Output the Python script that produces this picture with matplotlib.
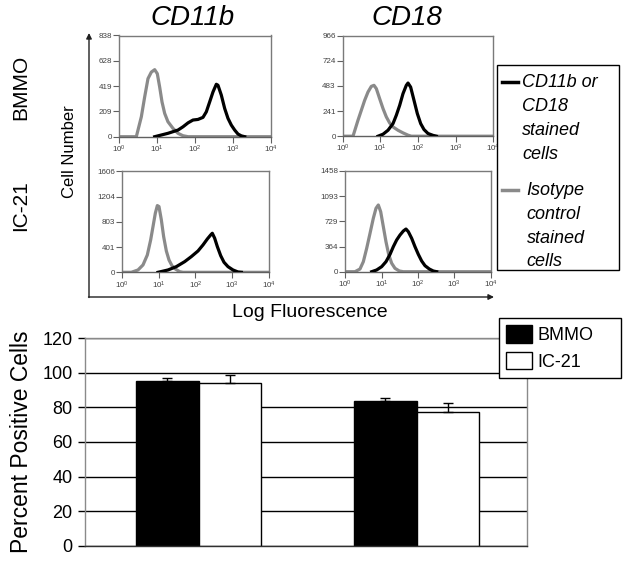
import matplotlib
matplotlib.use('Agg')
import matplotlib.pyplot as plt
import numpy as np
from matplotlib.patches import Rectangle

plt.rcParams['font.family'] = ['Liberation Sans', 'DejaVu Sans']
plt.rcParams['mathtext.fontset'] = 'custom'
plt.rcParams['mathtext.rm'] = 'Liberation Sans'
plt.rcParams['mathtext.it'] = 'Liberation Sans:italic'

# ---------------- data: flow cytometry histograms (log10 fluorescence, cell count) -------------
cd11b_bmmo_iso_log = [0.0, 0.448, 0.58, 0.668, 0.755, 0.843, 0.931, 1.0, 1.062, 1.124, 1.194, 1.28, 1.413, 1.545, 1.676, 1.81, 4.0]
cd11b_bmmo_iso_cnt = [0, 0, 165, 330, 481, 535, 555, 522, 412, 288, 193, 124, 69, 28, 8, 0, 0]
cd11b_bmmo_stain_log = [0.931, 1.28, 1.545, 1.676, 1.81, 1.939, 2.071, 2.202, 2.29, 2.378, 2.466, 2.553, 2.597, 2.685, 2.773, 2.86, 2.948, 3.036, 3.123, 3.211, 3.3]
cd11b_bmmo_stain_cnt = [0, 28, 55, 82, 115, 138, 143, 160, 206, 288, 371, 434, 426, 344, 234, 152, 96, 55, 22, 7, 0]

cd18_bmmo_iso_log = [0.0, 0.276, 0.408, 0.497, 0.585, 0.674, 0.762, 0.833, 0.895, 0.983, 1.072, 1.16, 1.248, 1.337, 1.469, 1.602, 1.735, 1.823, 4.0]
cd18_bmmo_iso_cnt = [0, 0, 153, 249, 344, 424, 478, 488, 456, 360, 265, 185, 127, 89, 57, 32, 10, 0, 0]
cd18_bmmo_stain_log = [0.939, 1.072, 1.204, 1.337, 1.425, 1.514, 1.602, 1.69, 1.735, 1.805, 1.894, 1.982, 2.071, 2.159, 2.265, 2.398, 2.486]
cd18_bmmo_stain_cnt = [0, 19, 57, 121, 201, 296, 408, 488, 510, 471, 344, 217, 121, 64, 26, 8, 0]

cd11b_ic21_iso_log = [0.0, 0.254, 0.436, 0.572, 0.69, 0.781, 0.845, 0.908, 0.963, 1.008, 1.072, 1.135, 1.208, 1.281, 1.362, 1.453, 1.571, 1.662, 4.0]
cd11b_ic21_iso_cnt = [0, 0, 37, 117, 276, 516, 729, 941, 1063, 1047, 835, 568, 340, 196, 105, 53, 10, 0, 0]
cd11b_ic21_stain_log = [0.981, 1.253, 1.48, 1.708, 1.889, 2.071, 2.207, 2.325, 2.416, 2.461, 2.525, 2.598, 2.689, 2.779, 2.888, 3.025, 3.161, 3.252]
cd11b_ic21_stain_cnt = [0, 37, 90, 170, 250, 340, 436, 531, 595, 622, 543, 409, 265, 160, 90, 37, 5, 0]

cd18_ic21_iso_log = [0.0, 0.264, 0.402, 0.494, 0.586, 0.678, 0.769, 0.843, 0.907, 0.972, 1.045, 1.118, 1.192, 1.275, 1.366, 1.486, 1.596, 4.0]
cd18_ic21_iso_cnt = [0, 0, 39, 145, 338, 555, 773, 918, 966, 869, 652, 434, 251, 122, 49, 10, 0, 0]
cd18_ic21_stain_log = [0.724, 0.861, 0.999, 1.118, 1.229, 1.32, 1.412, 1.504, 1.596, 1.669, 1.734, 1.826, 1.917, 2.009, 2.101, 2.193, 2.312, 2.422, 2.514]
cd18_ic21_stain_cnt = [0, 25, 73, 145, 251, 362, 459, 531, 589, 618, 579, 483, 362, 251, 155, 87, 39, 10, 0]

# y tick labels of each histogram panel
cd11b_bmmo_yticks = [0, 209, 419, 628, 838]
cd18_bmmo_yticks = [0, 241, 483, 724, 966]
cd11b_ic21_yticks = [0, 401, 803, 1204, 1606]
cd18_ic21_yticks = [0, 364, 729, 1093, 1458]
decades = [0, 1, 2, 3, 4]

# ---------------- data: bar chart ----------------
markers = ['CD11b', 'CD18']
bmmo_pct = [95.3, 83.8]
bmmo_err = [2.0, 1.9]
ic21_pct = [94.2, 77.4]
ic21_err = [4.4, 5.4]

W, H = 629, 566
fig = plt.figure(figsize=(W / 100, H / 100), dpi=100)


def box(l, t, r, b):
    return [l / W, 1 - b / H, (r - l) / W, (b - t) / H]


GRAY = '#8a8a8a'
panels = [
    (box(119.3, 35.5, 271.3, 136.7), cd11b_bmmo_iso_log, cd11b_bmmo_iso_cnt, cd11b_bmmo_stain_log, cd11b_bmmo_stain_cnt, cd11b_bmmo_yticks),
    (box(342.6, 35.5, 493.4, 136.2), cd18_bmmo_iso_log, cd18_bmmo_iso_cnt, cd18_bmmo_stain_log, cd18_bmmo_stain_cnt, cd18_bmmo_yticks),
    (box(122.0, 171.5, 268.8, 272.3), cd11b_ic21_iso_log, cd11b_ic21_iso_cnt, cd11b_ic21_stain_log, cd11b_ic21_stain_cnt, cd11b_ic21_yticks),
    (box(345.4, 171.0, 490.6, 271.7), cd18_ic21_iso_log, cd18_ic21_iso_cnt, cd18_ic21_stain_log, cd18_ic21_stain_cnt, cd18_ic21_yticks),
]

for rect, ilog, icnt, slog, scnt, yt in panels:
    ax = fig.add_axes(rect)
    ax.plot(10 ** np.array(slog), scnt, color='black', lw=2.3, solid_joinstyle='round', zorder=3)
    ax.plot(10 ** np.array(ilog), icnt, color=GRAY, lw=2.3, solid_joinstyle='round', zorder=2)
    ax.set_xscale('log')
    ax.set_xlim(1, 1e4)
    ax.set_ylim(0, yt[-1])
    ax.set_xticks([10.0 ** d for d in decades])
    ax.set_xticklabels([r'$10^{%d}$' % d for d in decades])
    ax.xaxis.set_minor_locator(matplotlib.ticker.NullLocator())
    ax.set_yticks(yt)
    ax.set_yticklabels([str(v) for v in yt])
    ax.tick_params(axis='both', labelsize=5.8, length=4, width=0.8, pad=1,
                   color='#606060', labelcolor='#404040', direction='out')
    for s in ax.spines.values():
        s.set_color('#7a7a7a')
        s.set_linewidth(1)
    ax.spines['bottom'].set_color('#606060')

# ---------------- bar chart ----------------
axb = fig.add_axes(box(85, 338.3, 527, 545.7))
x = np.arange(len(markers))
w = 0.287
bb = axb.bar(x - w / 2, bmmo_pct, w, color='black', edgecolor='black', lw=1, label='BMMO', zorder=2)
bi = axb.bar(x + w / 2, ic21_pct, w, color='white', edgecolor='black', lw=1, label='IC-21', zorder=2)
axb.errorbar(x - w / 2, bmmo_pct, yerr=[np.zeros(len(x)), bmmo_err], fmt='none', ecolor='black',
             elinewidth=1, capsize=3.5, capthick=1, zorder=3)
axb.errorbar(x + w / 2, ic21_pct, yerr=[np.zeros(len(x)), ic21_err], fmt='none', ecolor='black',
             elinewidth=1, capsize=3.5, capthick=1, zorder=3)
axb.set_xlim(-0.521, 1.507)
axb.set_ylim(0, 120)
axb.set_yticks(range(0, 121, 20))
axb.set_xticks([])
axb.set_axisbelow(True)
axb.yaxis.grid(True, color='black', lw=1)
axb.tick_params(axis='y', length=5, width=1, pad=4, labelsize=13, color='black')
for s in axb.spines.values():
    s.set_color('#8a8a8a')
    s.set_linewidth(1)
axb.spines['bottom'].set_color('#303030')

leg = axb.legend(handles=[bb, bi], loc='upper left',
                 bbox_to_anchor=(499 / W, 1 - 378 / H, 122 / W, 60 / H),
                 bbox_transform=fig.transFigure, mode='expand', borderaxespad=0,
                 frameon=True, fancybox=False, edgecolor='black', framealpha=1,
                 fontsize=13, handlelength=1.4, handleheight=1.1, handletextpad=0.35,
                 labelspacing=0.45, borderpad=0.4)
leg.get_frame().set_linewidth(1)

# ---------------- overlay: frame, arrows, labels, legend of histograms ----------------
ov = fig.add_axes([0, 0, 1, 1])
ov.set_xlim(0, W)
ov.set_ylim(H, 0)
ov.axis('off')
ov.patch.set_alpha(0)

ov.annotate('', xy=(89, 33), xytext=(89, 297.5),
            arrowprops=dict(arrowstyle='-|>', color='#202020', lw=1, mutation_scale=8, shrinkA=0, shrinkB=0))
ov.annotate('', xy=(494, 297), xytext=(88.5, 297),
            arrowprops=dict(arrowstyle='-|>', color='#202020', lw=1, mutation_scale=8, shrinkA=0, shrinkB=0))

ov.text(193, 25, 'CD11b', fontsize=20, style='italic', ha='center', va='baseline')
ov.text(407, 25, 'CD18', fontsize=20, style='italic', ha='center', va='baseline')
ov.text(26, 87.5, 'BMMO', fontsize=15, rotation=90, rotation_mode='anchor', ha='center', va='baseline')
ov.text(26, 206, 'IC-21', fontsize=15, rotation=90, rotation_mode='anchor', ha='center', va='baseline')
ov.text(74, 152, 'Cell Number', fontsize=12, rotation=90, rotation_mode='anchor', ha='center', va='baseline')
ov.text(310, 317, 'Log Fluorescence', fontsize=14, ha='center', va='baseline')
ov.text(28, 441.5, 'Percent Positive Cells', fontsize=16.5, rotation=90, rotation_mode='anchor',
        ha='center', va='baseline')

ov.add_patch(Rectangle((497.3, 65), 122, 205, fill=False, edgecolor='black', lw=1))
ov.plot([501.7, 518.3], [81.7, 81.7], color='black', lw=2.5)
ov.plot([501.7, 518.3], [190, 190], color=GRAY, lw=2.5)
for txt, yb in zip(['CD11b or', 'CD18', 'stained', 'cells'], [87, 111, 135, 159]):
    ov.text(522, yb, txt, fontsize=13, style='italic', ha='left', va='baseline')
for txt, yb in zip(['Isotype', 'control', 'stained', 'cells'], [195, 219, 243, 266]):
    ov.text(526.5, yb, txt, fontsize=13, style='italic', ha='left', va='baseline')

fig.savefig('out.png', dpi=100)
